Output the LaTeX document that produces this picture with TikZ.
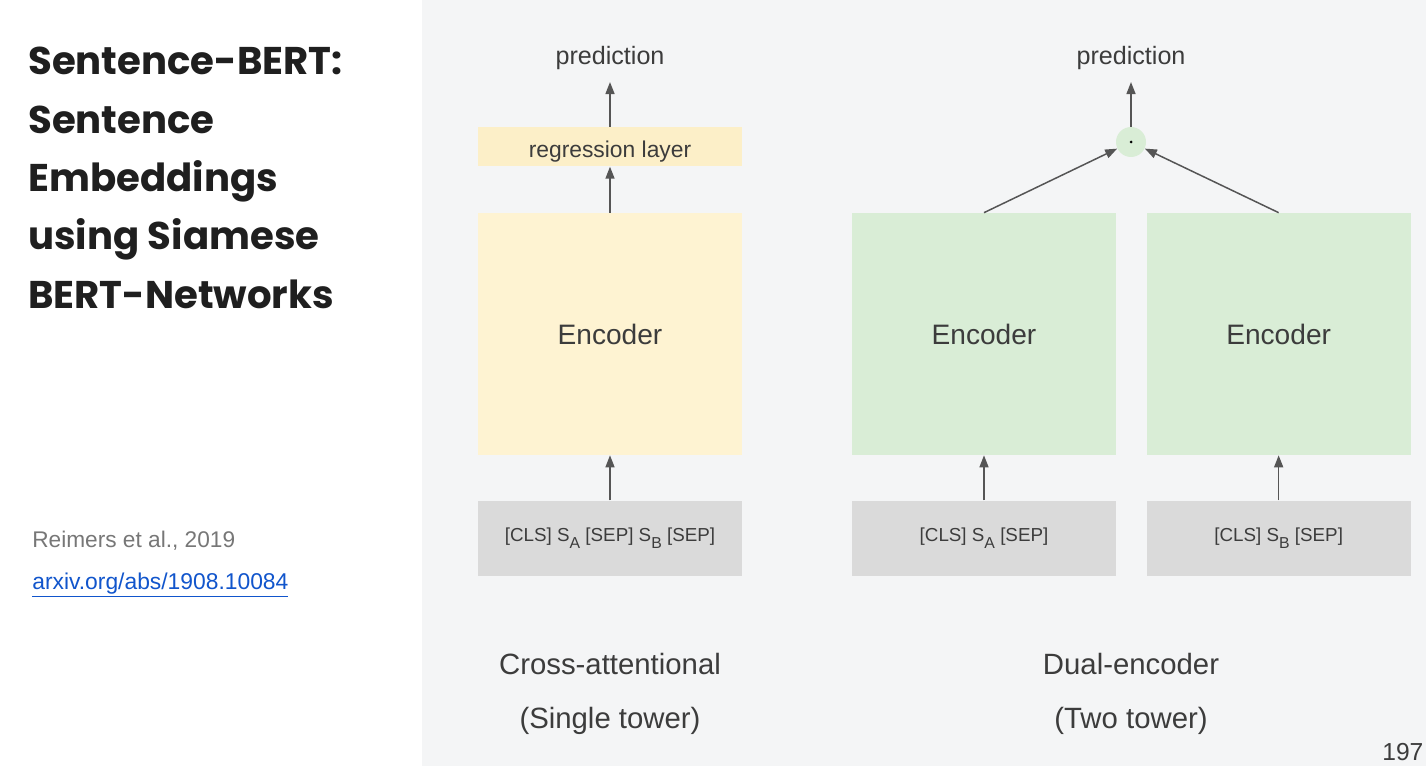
\documentclass[tikz,border=0pt]{standalone}
\usepackage{fontspec}
\setmainfont{Liberation Sans}
\newfontfamily\titlefont{Poppins}
\usetikzlibrary{positioning,arrows.meta}
\definecolor{panelgray}{HTML}{F4F5F6}
\definecolor{regyellow}{HTML}{FCEFC8}
\definecolor{encyellow}{HTML}{FEF3D2}
\definecolor{encgreen}{HTML}{D9EDD6}
\definecolor{ingray}{HTML}{DADADA}
\definecolor{txtdark}{HTML}{3C3C3C}
\definecolor{arrgray}{HTML}{555555}
\definecolor{refgray}{HTML}{777777}
\definecolor{linkblue}{HTML}{1155CC}
\newcommand{\lowtag}[1]{\raisebox{-0.7ex}{\fontsize{9}{10}\selectfont #1}}
\tikzset{
    box/.style = {inner sep=0pt, minimum width=5.28cm, text=txtdark},
    % Encoder blocks
    enc_yel/.style = {box, fill=encyellow, minimum height=4.84cm, font=\fontsize{16}{19}\selectfont},
    enc_grn/.style = {box, fill=encgreen, minimum height=4.84cm, font=\fontsize{16}{19}\selectfont},
    % Small layers and inputs
    reglayer/.style = {box, fill=regyellow, minimum height=0.78cm, text height=0.53cm, text depth=0.1cm, font=\fontsize{13}{15}\selectfont},
    inbox/.style = {box, fill=ingray, minimum height=1.5cm, font=\fontsize{10.7}{13}\selectfont},
    % Texts
    predtext/.style = {inner sep=0pt, text=txtdark, font=\fontsize{14.3}{17}\selectfont},
    captext/.style = {inner sep=0pt, text=txtdark, font=\fontsize{16.7}{20}\selectfont},
    titleline/.style = {inner sep=0pt, anchor=base west, text=black!88, font=\titlefont\bfseries\fontsize{22}{26}\selectfont},
    arr/.style = {draw=arrgray, line width=0.85pt, -{Triangle[length=0.24cm, width=0.18cm]}}
}

\begin{document}
\begin{tikzpicture}[x=0.02cm, y=-0.02cm]
    \useasboundingbox (0,0) rectangle (1426,766);
    \fill[white] (0,0) rectangle (422,766);
    \fill[panelgray] (422,0) rectangle (1426,766);

    % title and reference
    \foreach \t [count=\i] in {Sentence-BERT:, Sentence, Embeddings, using Siamese, BERT-Networks}
        \node[titleline] (title\i) at (28, 75 + 58.3*\i - 58.3) {\t};
    \node[inner sep=0pt, anchor=base west, text=refgray, font=\fontsize{12.9}{15}\selectfont] (ref) at (32,547) {Reimers et al., 2019};
    \node[inner sep=0pt, anchor=base west, text=linkblue, font=\fontsize{13}{15}\selectfont] (link) at (32,589) {\underline{arxiv.org/abs/1908.10084}};

    % cross-attentional
    \node[enc_yel] (encC) at (610,334) {Encoder};
    \node[reglayer, above=0.92cm of encC] (reg) {regression layer};
    \node[inbox, below=0.9cm of encC] (inC) {[CLS] S\lowtag{A} [SEP] S\lowtag{B} [SEP]};
    \node[predtext] (predC) at (610,58) {prediction};
    \node[captext] (capC1) at (610,664) {Cross-attentional};
    \node[captext] (capC2) at (610,721) {(Single tower)};

    \draw[arr] (inC) -- (encC);
    \draw[arr] (encC) -- (reg);
    \draw[arr, shorten >=0.24cm] (reg) -- (predC);

    % dual-encoder
    \node[enc_grn] (encA) at (984,334) {Encoder};
    \node[enc_grn, right=0.6cm of encA] (encB) {Encoder};
    \node[inbox, below=0.9cm of encA] (inA) {[CLS] S\lowtag{A} [SEP]};
    \node[inbox, below=0.9cm of encB] (inB) {[CLS] S\lowtag{B} [SEP]};
    \node[circle, fill=encgreen, minimum size=0.6cm, inner sep=0pt] (dot) at (1131,142) {};
    \fill[black] (dot.center) circle (0.03cm);
    \node[predtext] (predD) at (1131,58) {prediction};
    \node[captext] (capD1) at (1131,664) {Dual-encoder};
    \node[captext] (capD2) at (1131,721) {(Two tower)};

    \draw[arr] (inA) -- (encA);
    \draw[arr] (inB) -- (encB);
    \draw[arr] (encA.north) -- (dot);
    \draw[arr] (encB.north) -- (dot);
    \draw[arr, shorten >=0.24cm] (dot) -- (predD);

    % slide number
    \node[inner sep=0pt, anchor=base west, text=txtdark, font=\fontsize{14}{17}\selectfont] (num) at (1382,760) {197};
\end{tikzpicture}
\end{document}
